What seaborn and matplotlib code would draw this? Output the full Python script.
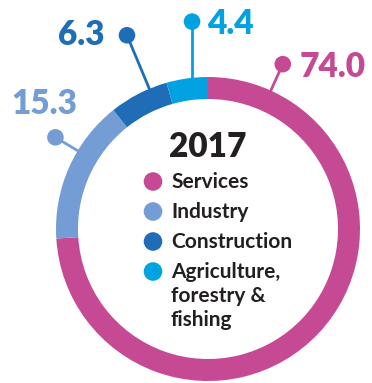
import numpy as np
import matplotlib
matplotlib.use("Agg")
import matplotlib.pyplot as plt
from matplotlib.patches import Circle
import seaborn as sns

# ---- data ----
categories = ["Services", "Industry", "Construction", "Agriculture,\nforestry &\nfishing"]
values = [74.0, 15.3, 6.3, 4.4]
value_labels = ["74.0", "15.3", "6.3", "4.4"]
year_label = "2017"

# ---- style ----
colors = ["#C54A93", "#739DD4", "#1F6DB6", "#00A2E1"]
text_dark = "#231F20"

sns.set_theme(style="white")
plt.rcParams["font.family"] = ["Lato", "DejaVu Sans"]
palette = sns.color_palette(colors)

W, H = 372, 383
fig = plt.figure(figsize=(W / 100, H / 100), dpi=100)
ax = fig.add_axes([0, 0, 1, 1])
# data units = pixels, donut centre at origin
cx_img, cy_img = 208, 229

R_out, ring_w = 152, 22
ax.pie(values, colors=palette, startangle=90, counterclock=False,
       radius=R_out, center=(0, 0), frame=True,
       wedgeprops=dict(width=ring_w, linewidth=0))
ax.set_xlim(-cx_img, W - cx_img)
ax.set_ylim(-(H - cy_img), cy_img)
ax.set_aspect("equal")
ax.axis("off")

# leader lines / value labels (layout)
lead_angle = [65.6, 149.0, 112.7, 94.4]
lead_r = [181, 178, 210, 208]
text_dx = [17, 22, -22, 15]
text_baseline_dy = [-13, 23, -10, -12]
text_ha = ["left", "right", "right", "left"]
for i, lab in enumerate(value_labels):
    a = np.deg2rad(lead_angle[i])
    x1, y1 = lead_r[i] * np.cos(a), lead_r[i] * np.sin(a)
    if i == 3:
        # vertical leader for the small top slice
        x0, y0 = x1, np.sqrt((R_out - 3) ** 2 - x1 ** 2)
    else:
        x0, y0 = (R_out - 3) * np.cos(a), (R_out - 3) * np.sin(a)
    ax.plot([x0, x1], [y0, y1], color=palette[i], lw=2.0, solid_capstyle="butt", zorder=3)
    ax.add_patch(Circle((x1, y1), 8.3, color=palette[i], lw=0, zorder=4))
    tx, ty = x1 + text_dx[i], y1 + text_baseline_dy[i]
    ax.text(tx, ty, lab, color=palette[i], fontsize=24, fontweight="heavy",
            ha=text_ha[i], va="baseline", zorder=5)

# centre title
ax.text(0, 72, year_label, color=text_dark, fontsize=24, fontweight="heavy",
        ha="center", va="baseline")

# legend inside donut
leg_baselines = [41, 11, -19, -49]
line_step = 24
for i, cat in enumerate(categories):
    yb = leg_baselines[i]
    ax.add_patch(Circle((-55, yb + 6.5), 9.3, color=palette[i], lw=0))
    for j, line in enumerate(cat.split("\n")):
        ax.text(-37, yb - j * line_step, line, color=text_dark, fontsize=15,
                fontweight="bold", ha="left", va="baseline")

fig.savefig("out.png", dpi=100)
